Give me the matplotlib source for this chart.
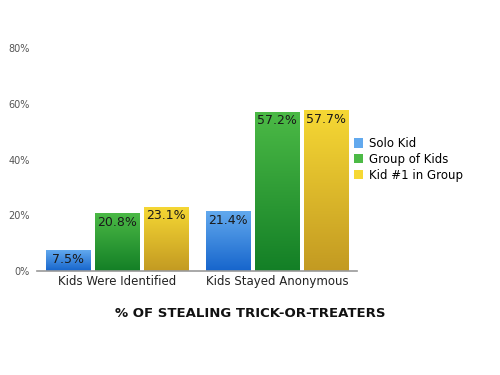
import numpy as np
import matplotlib
matplotlib.use("Agg")
import matplotlib.pyplot as plt
from matplotlib.colors import LinearSegmentedColormap

categories = ["Kids Were Identified", "Kids Stayed Anonymous"]
series = ["Solo Kid", "Group of Kids", "Kid #1 in Group"]
solo = [7.5, 21.4]
group = [20.8, 57.2]
kid1 = [23.1, 57.7]
yticks = [0, 20, 40, 60, 80]
ytick_labels = ["0%", "20%", "40%", "60%", "80%"]

grads = [("#62a9ee", "#1665cc"), ("#4cba46", "#137f26"), ("#f6d834", "#c39a22")]

fig = plt.figure(figsize=(5, 3.75), dpi=100)
ax = fig.add_axes([0.074, 0.277, 0.64, 0.595])
ax.set_xlim(-0.5, 1.5)
ax.set_ylim(0, 80)

width = 0.28
step = 0.306
x = np.arange(len(categories))
grad = np.linspace(1, 0, 256).reshape(-1, 1)
for i, (vals, (top, bot)) in enumerate(zip([solo, group, kid1], grads)):
    cmap = LinearSegmentedColormap.from_list("g%d" % i, [bot, top])
    bars = ax.bar(x + (i - 1) * step, vals, width, color=top, edgecolor="none", label=series[i])
    for b, v in zip(bars, vals):
        x0, y0 = b.get_x(), b.get_y()
        w, h = b.get_width(), b.get_height()
        im = ax.imshow(grad, extent=(x0, x0 + w, y0, y0 + h), cmap=cmap,
                       aspect="auto", zorder=2, vmin=0, vmax=1)
        im.set_clip_path(b)
        ax.text(x0 + w / 2, v - 1.0, f"{v:.1f}%", ha="center", va="top",
                fontsize=9, color="#1a1a1a", zorder=3)

ax.set_aspect("auto")
ax.set_xlim(-0.5, 1.5)
ax.set_ylim(0, 80)
ax.set_yticks(yticks)
ax.set_yticklabels(ytick_labels, fontsize=7, color="#555555")
ax.set_xticks(x)
ax.set_xticklabels(categories, fontsize=8.5, color="#222222")
ax.tick_params(axis="both", length=0)
ax.tick_params(axis="y", pad=5)
ax.tick_params(axis="x", pad=3)
for s in ["top", "right", "left"]:
    ax.spines[s].set_visible(False)
ax.spines["bottom"].set_color("#999999")
ax.spines["bottom"].set_linewidth(1.2)

leg = ax.legend(loc="center left", bbox_to_anchor=(0.975, 0.5), frameon=False,
                fontsize=8.5, handlelength=0.8, handleheight=0.8,
                handletextpad=0.5, labelspacing=0.25, borderaxespad=0.0)

fig.text(0.5, 0.163, "% OF STEALING TRICK-OR-TREATERS", ha="center", va="center",
         fontsize=9.5, fontweight="heavy", color="#111111")

fig.savefig("out.png", dpi=100)
